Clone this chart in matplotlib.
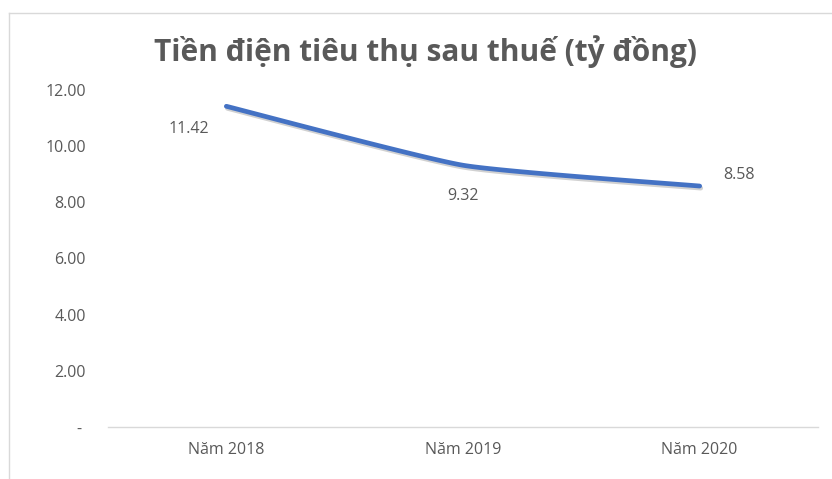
import matplotlib
matplotlib.use('Agg')
import matplotlib.pyplot as plt
import matplotlib.patheffects as pe
from matplotlib.lines import Line2D
import numpy as np

categories = ['Năm 2018', 'Năm 2019', 'Năm 2020']
values = [11.42, 9.32, 8.58]
label_text = ['11.42', '9.32', '8.58']
# offsets of data labels (points) from each marker
label_offsets = [(-27, -16), (0, -22), (28, 8)]

plt.rcParams['font.family'] = ['Open Sans', 'DejaVu Sans']
gray = '#595959'
blue = '#4472C4'

fig = plt.figure(figsize=(8.32, 4.79), dpi=100)
ax = fig.add_axes([108 / 832, 1 - 427 / 479, 710 / 832, (427 - 90) / 479])

# Excel-like smoothed line (bezier segments through the points)
x = np.arange(len(values), dtype=float)
y = np.array(values)
xs, ys = [], []
for i in range(len(x) - 1):
    p0 = np.array([x[max(i - 1, 0)], y[max(i - 1, 0)]])
    p1 = np.array([x[i], y[i]])
    p2 = np.array([x[i + 1], y[i + 1]])
    p3 = np.array([x[min(i + 2, len(x) - 1)], y[min(i + 2, len(x) - 1)]])
    c1 = p1 + (p2 - p0) / 12
    c2 = p2 - (p3 - p1) / 12
    t = np.linspace(0, 1, 40)[:, None]
    pts = (1 - t) ** 3 * p1 + 3 * (1 - t) ** 2 * t * c1 + 3 * (1 - t) * t ** 2 * c2 + t ** 3 * p2
    xs.extend(pts[:, 0])
    ys.extend(pts[:, 1])

ax.plot(xs, ys, color=blue, lw=3.4, solid_capstyle='round',
        path_effects=[pe.SimpleLineShadow(offset=(0.8, -1.5), alpha=0.18, shadow_color='black'),
                      pe.Normal()])

for xi, yi, txt, off in zip(x, y, label_text, label_offsets):
    ax.annotate(txt, (xi, yi), xytext=off, textcoords='offset points',
                ha='center', va='center', fontsize=11.5, color=gray)

ax.set_xlim(-0.5, 2.5)
ax.set_ylim(0, 12)
ax.set_xticks(x)
ax.set_xticklabels(categories, fontsize=11.5, color=gray)
ax.set_yticks(np.arange(0, 13, 2))
ax.set_yticklabels(['- ' if v == 0 else '%.2f' % v for v in np.arange(0, 13, 2)],
                   fontsize=11.5, color=gray)
ax.tick_params(axis='both', length=0)
ax.tick_params(axis='y', pad=16)
ax.tick_params(axis='x', pad=11)
for s in ['top', 'right', 'left']:
    ax.spines[s].set_visible(False)
ax.spines['bottom'].set_color('#D9D9D9')
ax.spines['bottom'].set_linewidth(1)

fig.text(425 / 832, 1 - 52 / 479, 'Tiền điện tiêu thụ sau thuế (tỷ đồng)',
         ha='center', va='center', fontsize=21.5, fontweight='bold', color=gray)

# chart frame
fig.add_artist(Line2D([8.5 / 832, 8.5 / 832], [0, 1 - 12.5 / 479], color='#D9D9D9', lw=1))
fig.add_artist(Line2D([8.5 / 832, 1], [1 - 12.5 / 479, 1 - 12.5 / 479], color='#D9D9D9', lw=1))

fig.savefig('out.png', dpi=100)
